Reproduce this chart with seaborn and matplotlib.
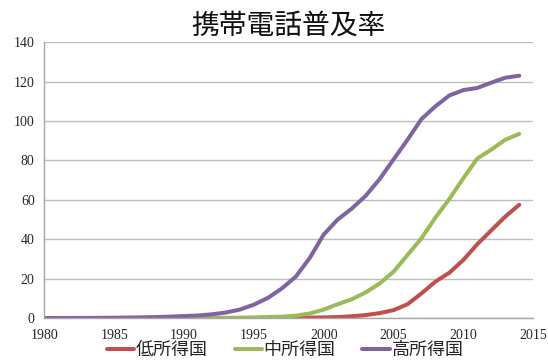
import matplotlib
matplotlib.use("Agg")
import matplotlib.pyplot as plt
import pandas as pd
import seaborn as sns

# mobile phone subscriptions per 100 people, 1980-2014
years = list(range(1980, 2015))
low_income = [0] * 15 + [0.01, 0.02, 0.05, 0.1, 0.2, 0.3, 0.5, 0.9, 1.5, 2.5,
                         4.0, 7.0, 12.5, 18.5, 23.0, 29.5, 37.5, 44.5, 51.5, 57.5]
mid_income = [0] * 10 + [0.02, 0.04, 0.07, 0.1, 0.2, 0.3, 0.5, 0.7, 1.2, 2.3,
                         4.3, 7.0, 9.5, 13.0, 17.5, 23.5, 32.0, 40.5, 51.0, 60.5,
                         71.0, 81.0, 85.5, 90.5, 93.5]
high_income = [0.0, 0.02, 0.03, 0.05, 0.1, 0.15, 0.25, 0.35, 0.5, 0.7,
               1.0, 1.3, 1.9, 2.8, 4.3, 6.8, 10.2, 15.0, 21.0, 30.5,
               42.4, 50.0, 55.5, 62.0, 70.5, 80.5, 90.5, 101.0, 107.5, 113.0,
               115.7, 116.8, 119.5, 122.0, 123.0]
series_names = ['低所得国', '中所得国', '高所得国']
colors = ['#C0504D', '#9BBB59', '#8064A2']
x_ticks = list(range(1980, 2016, 5))
y_ticks = list(range(0, 141, 20))

df = pd.concat([
    pd.DataFrame({'year': years, 'value': vals, 'group': name})
    for name, vals in zip(series_names, [low_income, mid_income, high_income])
])

sns.set_style('white')
plt.rcParams['font.family'] = ['Noto Sans CJK JP', 'DejaVu Sans']

fig = plt.figure(figsize=(5.48, 3.61), dpi=100)
ax = fig.add_axes([0.081, 0.119, 0.892, 0.764])

sns.lineplot(data=df, x='year', y='value', hue='group', palette=colors,
             linewidth=2.9, ax=ax, legend=False)

ax.set_xlim(1980, 2015)
ax.set_ylim(0, 140)
ax.set_xticks(x_ticks)
ax.set_yticks(y_ticks)
ax.set_xlabel('')
ax.set_ylabel('')
ax.yaxis.grid(True, color='#BEBEBE', linewidth=1)
ax.set_axisbelow(True)
for side in ['top', 'right']:
    ax.spines[side].set_visible(False)
for side in ['left', 'bottom']:
    ax.spines[side].set_color('#A6A6A6')
    ax.spines[side].set_linewidth(1)
ax.tick_params(axis='both', length=4, width=1, color='#A6A6A6',
               direction='out', labelsize=10, labelcolor='#262626')
ax.tick_params(axis='x', pad=4)
ax.tick_params(axis='y', pad=3)
for lab in ax.get_xticklabels() + ax.get_yticklabels():
    lab.set_fontfamily('Liberation Serif')

fig.text(0.527, 0.93, '携帯電話普及率', ha='center', va='center', fontsize=20,
         color='#111111')

handles = [plt.Line2D([], [], color=c, linewidth=2.9) for c in colors]
fig.legend(handles, series_names, loc='center', bbox_to_anchor=(0.52, 0.03),
           ncol=3, frameon=False, fontsize=13, handlelength=1.5,
           handletextpad=0.1, columnspacing=1.5, borderpad=0.0)

fig.savefig('out.png', dpi=100)
